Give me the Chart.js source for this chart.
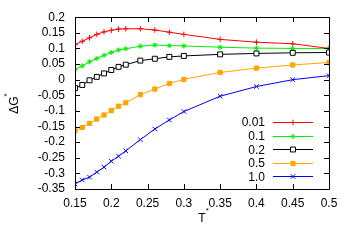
<!DOCTYPE html>
<html>
<head>
<meta charset="utf-8">
<script src="https://cdn.jsdelivr.net/npm/chart.js@4"></script>
<style>
  html, body { margin: 0; padding: 0; background: #fff; }
  #wrap { width: 354px; height: 248px; }
</style>
</head>
<body>
<div id="wrap"><canvas id="c" width="354" height="248"></canvas></div>
<script>
// temperatures T*
var temps = [0.15, 0.16, 0.17, 0.18, 0.19, 0.20, 0.21, 0.22, 0.24, 0.26, 0.28, 0.30, 0.35, 0.40, 0.45, 0.50];

// delta G* per series
var g001 = [0.112, 0.123, 0.134, 0.145, 0.153, 0.158, 0.162, 0.163, 0.163, 0.159, 0.152, 0.145, 0.129, 0.120, 0.115, 0.100];
var g01  = [0.032, 0.044, 0.057, 0.068, 0.078, 0.087, 0.095, 0.099, 0.107, 0.111, 0.109, 0.108, 0.104, 0.101, 0.100, 0.100];
var g02  = [-0.027, -0.017, -0.002, 0.009, 0.020, 0.031, 0.041, 0.048, 0.061, 0.067, 0.073, 0.076, 0.081, 0.084, 0.086, 0.087];
var g05  = [-0.164, -0.153, -0.140, -0.126, -0.113, -0.099, -0.085, -0.074, -0.048, -0.030, -0.012, 0.001, 0.023, 0.037, 0.047, 0.055];
var g10  = [-0.334, -0.321, -0.312, -0.296, -0.280, -0.261, -0.245, -0.228, -0.192, -0.158, -0.129, -0.102, -0.053, -0.022, 0.000, 0.013];

var seriesLabels = ["0.01", "0.1", "0.2", "0.5", "1.0"];
var seriesData = [g001, g01, g02, g05, g10];
var colors = ["#ff0000", "#00ee00", "#000000", "#ffa500", "#0000ff"];
var markers = ["cross", "star", "rect", "rect", "crossRot"];
var fills = ["#ff0000", "#00ee00", "#ffffff", "#ffa500", "#0000ff"];
var radii = [2.8, 2.6, 3.5, 3, 3.2];

var xTicks = [0.15, 0.2, 0.25, 0.3, 0.35, 0.4, 0.45, 0.5];

function toPoints(arr) {
    return arr.map(function (v, i) { return {x: temps[i], y: v}; });
}

function fmt(v) {
    return String(Number(v.toFixed(2)));
}

var FONT = "'Liberation Sans', Arial, sans-serif";

// box, inward ticks, axis titles and legend like gnuplot
var framePlugin = {
    id: 'frame',
    afterDraw: function (chart) {
        var ctx = chart.ctx;
        var a = chart.chartArea;
        var xs = chart.scales.x, ys = chart.scales.y;
        ctx.save();
        ctx.strokeStyle = '#000';
        ctx.lineWidth = 1;
        ctx.beginPath();
        ctx.rect(Math.round(a.left) + 0.5, Math.round(a.top) + 0.5, Math.round(a.right - a.left), Math.round(a.bottom - a.top));
        ctx.stroke();

        var len = 5;
        ctx.beginPath();
        xs.ticks.forEach(function (t) {
            var px = Math.round(xs.getPixelForValue(t.value)) + 0.5;
            ctx.moveTo(px, a.bottom); ctx.lineTo(px, a.bottom - len);
            ctx.moveTo(px, a.top); ctx.lineTo(px, a.top + len);
        });
        ys.ticks.forEach(function (t) {
            var py = Math.round(ys.getPixelForValue(t.value)) + 0.5;
            ctx.moveTo(a.left, py); ctx.lineTo(a.left + len, py);
            ctx.moveTo(a.right, py); ctx.lineTo(a.right - len, py);
        });
        ctx.stroke();

        // axis titles
        ctx.fillStyle = '#000';
        ctx.font = '12px ' + FONT;
        ctx.textBaseline = 'alphabetic';
        ctx.textAlign = 'left';
        var cx = (a.left + a.right) / 2;
        var w = ctx.measureText('T').width;
        ctx.fillText('T', cx - w / 2, 222);
        ctx.font = '8px ' + FONT;
        ctx.fillText('*', cx + w / 2, 213);

        ctx.save();
        ctx.translate(18, (a.top + a.bottom) / 2);
        ctx.rotate(-Math.PI / 2);
        ctx.font = '12px ' + FONT;
        var w2 = ctx.measureText('ΔG').width;
        ctx.fillText('ΔG', -w2 / 2 - 2, 0);
        ctx.font = '8px ' + FONT;
        ctx.fillText('*', w2 / 2 - 2, -9);
        ctx.restore();

        // legend
        var drawPoint = Chart.helpers && Chart.helpers.drawPoint;
        chart.data.datasets.forEach(function (ds, i) {
            var y = 122 + i * 13.6;
            ctx.font = '12px ' + FONT;
            ctx.textAlign = 'right';
            ctx.textBaseline = 'middle';
            ctx.fillStyle = '#000';
            ctx.fillText(ds.label, 265, y + 1);
            ctx.strokeStyle = ds.borderColor;
            ctx.lineWidth = 1;
            ctx.beginPath();
            ctx.moveTo(273, Math.round(y) + 0.5);
            ctx.lineTo(313, Math.round(y) + 0.5);
            ctx.stroke();
            if (drawPoint) {
                ctx.fillStyle = ds.pointBackgroundColor;
                ctx.strokeStyle = ds.borderColor;
                drawPoint(ctx, {pointStyle: ds.pointStyle, radius: ds.pointRadius, borderWidth: 1, rotation: 0}, 293, Math.round(y) + 0.5);
            }
        });
        ctx.restore();
    }
};

var datasets = seriesLabels.map(function (lab, i) {
    return {
        label: lab,
        data: toPoints(seriesData[i]),
        borderColor: colors[i],
        backgroundColor: colors[i],
        pointBackgroundColor: fills[i],
        pointBorderColor: colors[i],
        pointStyle: markers[i],
        pointRadius: radii[i],
        pointBorderWidth: 1,
        borderWidth: 1,
        tension: 0,
        order: 5 - i
    };
});

var chart = new Chart(document.getElementById('c').getContext('2d'), {
    type: 'line',
    data: {datasets: datasets},
    options: {
        responsive: false,
        animation: false,
        devicePixelRatio: 1,
        layout: {padding: {left: 0, right: 25, top: 16, bottom: 0}},
        plugins: {legend: {display: false}, tooltip: {enabled: false}},
        scales: {
            x: {
                type: 'linear',
                min: 0.15,
                max: 0.5,
                afterBuildTicks: function (s) { s.ticks = xTicks.map(function (v) { return {value: v}; }); },
                afterFit: function (s) { s.height = 59; },
                grid: {display: false, drawTicks: false},
                border: {display: false},
                ticks: {
                    padding: 7,
                    color: '#000',
                    font: {family: FONT, size: 12},
                    maxRotation: 0,
                    autoSkip: false,
                    callback: function (v) { return fmt(v); }
                }
            },
            y: {
                min: -0.35,
                max: 0.2,
                afterFit: function (s) { s.width = 75; },
                grid: {display: false, drawTicks: false},
                border: {display: false},
                ticks: {
                    stepSize: 0.05,
                    padding: 10,
                    color: '#000',
                    font: {family: FONT, size: 12},
                    autoSkip: false,
                    callback: function (v) { return fmt(v); }
                }
            }
        }
    },
    plugins: [framePlugin]
});
</script>
</body>
</html>
